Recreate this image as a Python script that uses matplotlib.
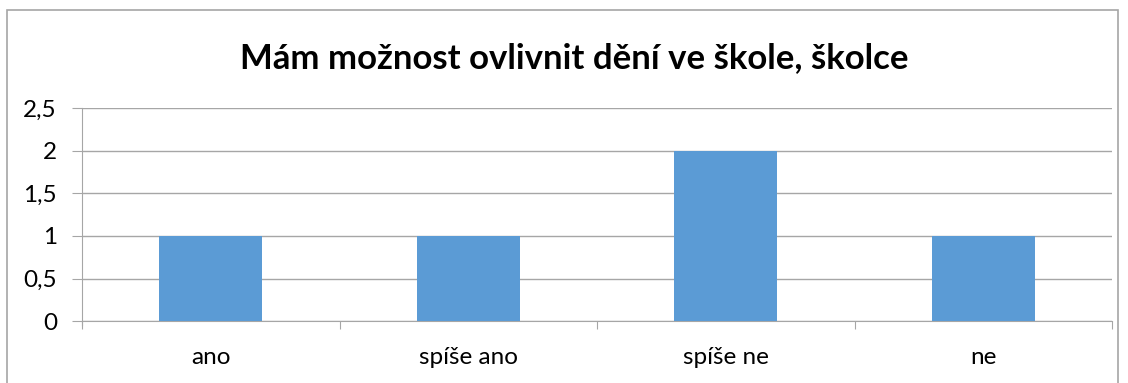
import matplotlib
matplotlib.use("Agg")
import matplotlib.pyplot as plt
from matplotlib.patches import Rectangle
from matplotlib.ticker import FixedLocator, FuncFormatter

categories = ["ano", "spíše ano", "spíše ne", "ne"]
counts = [1, 1, 2, 1]
y_ticks = [0, 0.5, 1, 1.5, 2, 2.5]

plt.rcParams['font.family'] = ['Lato', 'DejaVu Sans']

W, H = 1128, 383
fig = plt.figure(figsize=(W / 100, H / 100), dpi=100)
fig.patch.set_facecolor("white")

# outer frame of the chart (bottom edge runs past the image)
fig.add_artist(Rectangle((7 / W, -0.1), (1118 - 7) / W, 1.1 - 10 / H,
                         transform=fig.transFigure, fill=False,
                         edgecolor="#a6a6a6", linewidth=1.2))

left, right, top, bottom = 82, 1112, 108.5, 321
ax = fig.add_axes([left / W, 1 - bottom / H, (right - left) / W, (bottom - top) / H])

x = list(range(len(categories)))
ax.bar(x, counts, width=0.4, color="#5b9bd5", zorder=3)

ax.set_xlim(-0.5, len(categories) - 0.5)
ax.set_ylim(0, 2.5)
ax.yaxis.set_major_locator(FixedLocator(y_ticks))
ax.yaxis.set_major_formatter(FuncFormatter(lambda v, p: ("%g" % v).replace(".", ",")))
ax.grid(axis="y", color="#a6a6a6", linewidth=1.0, zorder=0)

for s in ["top", "right"]:
    ax.spines[s].set_visible(False)
ax.spines["left"].set_color("#a6a6a6")
ax.spines["bottom"].set_color("#a6a6a6")
ax.spines["left"].set_bounds(-0.05, 2.5)

# category boundaries carry the x tick marks, labels sit at centres
ax.set_xticks([i - 0.5 for i in range(len(categories) + 1)])
ax.set_xticklabels([])
ax.set_xticks(x, minor=True)
ax.set_xticklabels(categories, minor=True, fontsize=17.5)
ax.tick_params(axis="x", which="major", length=6, color="#a6a6a6")
ax.tick_params(axis="x", which="minor", length=0, pad=19)
ax.tick_params(axis="y", length=7, color="#a6a6a6", labelsize=17.5, pad=11)

fig.text(0.509, 1 - 58 / H, "Mám možnost ovlivnit dění ve škole, školce",
         ha="center", va="center", fontsize=25, fontweight="bold")

fig.savefig("out.png", dpi=100)
